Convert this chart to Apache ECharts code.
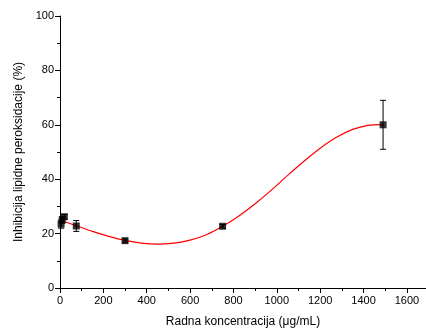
<!DOCTYPE html>
<html><head><meta charset="utf-8">
<script src="https://cdn.jsdelivr.net/npm/echarts@6/dist/echarts.min.js"></script>
<style>html,body{margin:0;padding:0;background:#fff}#c{width:426px;height:330px}</style>
</head><body><div id="c"></div>
<script>
// measured points
const concX = [5, 10, 20, 75, 300, 750, 1490];
const inhib = [23.5, 25.0, 26.2, 22.8, 17.4, 22.7, 60.0];
const errs  = [1.5, 1.2, 0.8, 2.0, 0.6, 0.6, 9.0];
// fitted curve
const fitX = [0, 75, 150, 225, 300, 375, 450, 525, 600, 675, 750, 825, 900, 975, 1050, 1125, 1200, 1275, 1350, 1420, 1490];
const fitY = [25.0, 22.9, 20.8, 19.0, 17.5, 16.5, 16.1, 16.5, 17.6, 19.6, 22.7, 26.5, 31.0, 36.0, 41.4, 46.6, 51.4, 55.4, 58.3, 59.8, 60.1];
const xTicks = [0, 200, 400, 600, 800, 1000, 1200, 1400, 1600];
const yTicks = [0, 20, 40, 60, 80, 100];

const font = 'Liberation Sans, Arial, sans-serif';
const chart = echarts.init(document.getElementById('c'));
const pts = concX.map((x, i) => [x, inhib[i]]);
const errData = concX.map((x, i) => [x, inhib[i] - errs[i], inhib[i] + errs[i]]);
const fit = fitX.map((x, i) => [x, fitY[i]]);
const axisCommon = {
  axisLine: {show: true, onZero: false, lineStyle: {color: '#000', width: 1}},
  axisTick: {show: true, inside: false, length: 5, lineStyle: {color: '#000'}},
  minorTick: {show: true, splitNumber: 2, length: 3, lineStyle: {color: '#000'}},
  splitLine: {show: false}
};
chart.setOption({
  animation: false,
  grid: {left: 60, right: 0, top: 16, bottom: 42, containLabel: false, outerBoundsMode: 'none'},
  xAxis: Object.assign({
    type: 'value', min: 0, max: 1688, interval: 200,
    name: 'Radna koncentracija (\u03bcg/mL)', nameLocation: 'middle', nameGap: 28,
    nameTextStyle: {color: '#000', fontFamily: font, fontSize: 12},
  }, axisCommon, {axisLabel: {color: '#000', fontFamily: font, fontSize: 11, margin: 7,
    formatter: v => xTicks.includes(v) ? String(v) : ''}}),
  yAxis: Object.assign({
    type: 'value', min: 0, max: 100, interval: 20,
    name: 'Inhibicija lipidne peroksidacije (%)', nameLocation: 'middle', nameGap: 32,
    nameTextStyle: {color: '#000', fontFamily: font, fontSize: 12},
  }, axisCommon, {axisLabel: {color: '#000', fontFamily: font, fontSize: 11, margin: 6,
    formatter: v => yTicks.includes(v) ? String(v) : ''}}),
  series: [
    {type: 'line', data: fit, smooth: 0.3, symbol: 'none', z: 2,
     lineStyle: {color: '#ff0000', width: 1.2}},
    {type: 'custom', data: errData, z: 3,
     renderItem: function (params, api) {
       const x = api.value(0);
       const lo = api.coord([x, api.value(1)]);
       const hi = api.coord([x, api.value(2)]);
       const w = 3;
       const st = {stroke: '#000', lineWidth: 1};
       return {type: 'group', children: [
         {type: 'line', shape: {x1: lo[0], y1: lo[1], x2: hi[0], y2: hi[1]}, style: st},
         {type: 'line', shape: {x1: lo[0] - w, y1: lo[1], x2: lo[0] + w, y2: lo[1]}, style: st},
         {type: 'line', shape: {x1: hi[0] - w, y1: hi[1], x2: hi[0] + w, y2: hi[1]}, style: st}
       ]};
     }},
    {type: 'scatter', data: pts, symbol: 'rect', symbolSize: 7, z: 4,
     itemStyle: {color: '#000'}}
  ]
});
</script></body></html>
